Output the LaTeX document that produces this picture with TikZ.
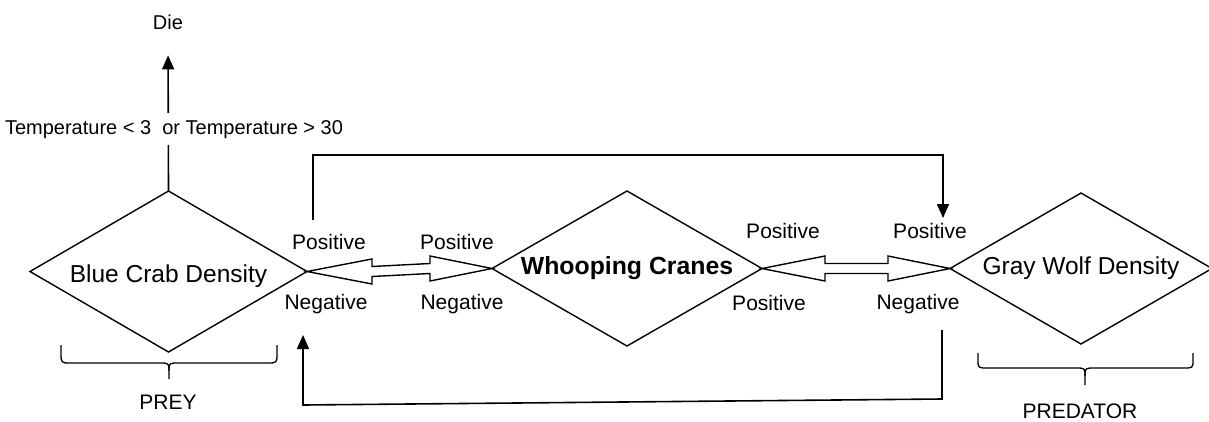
\documentclass[tikz,border=0pt]{standalone}
\usepackage{fontspec}
\setmainfont{Liberation Sans}
\usetikzlibrary{shapes.geometric,arrows.meta,calc}
\begin{document}
\begin{tikzpicture}[x=1pt,y=-1pt,
  dia/.style={draw,shape=diamond,inner sep=0pt,outer sep=0pt,line width=1.4pt,
    font=\fontsize{24.5}{28}\selectfont},
  lbl/.style={inner sep=0pt,anchor=base,font=\fontsize{21}{24}\selectfont},
  conn/.style={line width=1.6pt},
  arr/.style={conn,-{Triangle[width=12pt,length=14pt]}},
  dbl/.style={line width=1.4pt,line join=miter},
  brace/.style={line width=1.3pt},
]
\useasboundingbox (0,0) rectangle (1209,421);

% the three populations
\node[dia,aspect=1.72,minimum width=277,minimum height=161,
  text height=21pt,text depth=0pt] (bc) at (168.5,271.5) {Blue Crab Density};
\node[dia,aspect=1.742,minimum width=270,minimum height=155,
  font={\fontsize{24.8}{28}\selectfont\bfseries}] (wc) at (627,268.5) {Whooping Cranes};
\node[dia,aspect=1.735,minimum width=262,minimum height=151] (gw) at (1081,268.5) {Gray Wolf Density};

% temperature limit
\node[lbl,font=\fontsize{20}{24}\selectfont] (die) at (168,29) {Die};
\draw[arr,shorten >=26pt] (bc.north) -- (die.south);
\node[lbl,fill=white,inner xsep=2pt,inner ysep=7pt,font=\fontsize{20}{24}\selectfont]
  (temp) at (174,134) {Temperature < 3\ \ or Temperature > 30};

% two-way interactions
\draw[dbl] (bc.east) -- ($(bc.east)+(65,-12.5)$) -- ($(bc.east)+(65,-5)$)
  -- ($(wc.west)+(-62,-5)$) -- ($(wc.west)+(-62,-12.5)$) -- (wc.west)
  -- ($(wc.west)+(-62,12.5)$) -- ($(wc.west)+(-62,5)$)
  -- ($(bc.east)+(65,5)$) -- ($(bc.east)+(65,12.5)$) -- cycle;
\draw[dbl] (wc.east) -- ($(wc.east)+(63,-12.5)$) -- ($(wc.east)+(63,-5)$)
  -- ($(gw.west)+(-62,-5)$) -- ($(gw.west)+(-62,-12.5)$) -- (gw.west)
  -- ($(gw.west)+(-62,12.5)$) -- ($(gw.west)+(-62,5)$)
  -- ($(wc.east)+(63,5)$) -- ($(wc.east)+(63,12.5)$) -- cycle;

% effect labels
\node[lbl] (p1) at (329,249.5) {Positive};
\node[lbl] (n1) at (326,309.5) {Negative};
\node[lbl] (p2) at (457,249.5) {Positive};
\node[lbl] (n2) at (462,309.5) {Negative};
\node[lbl] (p3) at (783,238.5) {Positive};
\node[lbl] (p4) at (769,310.5) {Positive};
\node[lbl] (p5) at (930,238.5) {Positive};
\node[lbl] (n3) at (918,309.5) {Negative};

% feedback loops between prey and predator
\coordinate (ts) at (313,220);
\coordinate (te) at (943,218);
\draw[arr] (ts) -- ++(0,-65) -| (te);
\coordinate (bs) at (942,330);
\coordinate (be) at (303,335);
\draw[arr] (bs) -- (942,399) -- (303,405) -- (be);

% group braces
\node[lbl] (prey) at (168,409.5) {PREY};
\draw[brace] (61,345) -- (61,353) .. controls (61,363) .. (71,363) -- (159,363)
  .. controls (169,363) .. (169,371) -- (169,379);
\draw[brace] (277,345) -- (277,353) .. controls (277,363) .. (267,363) -- (179,363)
  .. controls (169,363) .. (169,371);
\node[lbl] (pred) at (1080,418) {PREDATOR};
\draw[brace] (978,353) -- (978,360) .. controls (978,368) .. (988,368) -- (1075,368)
  .. controls (1085,368) .. (1085,376) -- (1085,385);
\draw[brace] (1193,353) -- (1193,360) .. controls (1193,368) .. (1183,368) -- (1095,368)
  .. controls (1085,368) .. (1085,376);
\end{tikzpicture}
\end{document}
